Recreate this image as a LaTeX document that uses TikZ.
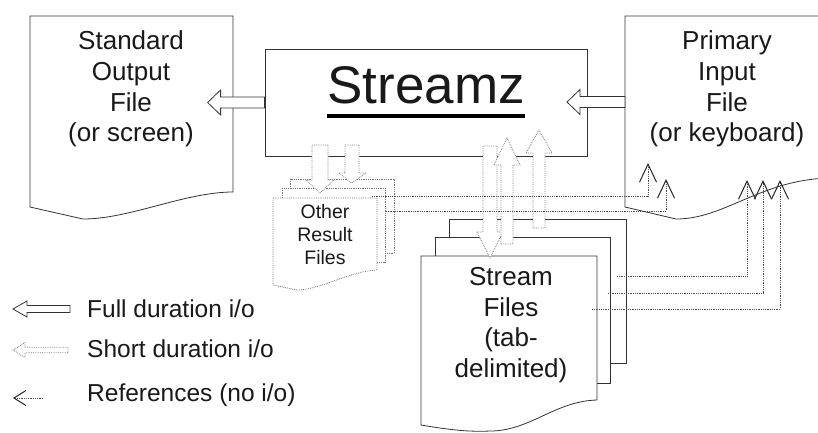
\documentclass[tikz,border=0pt]{standalone}
\usepackage{fontspec}
\setmainfont{Liberation Sans}
\usetikzlibrary{arrows.meta}

% block arrow along +x: length, body half width, head half width, head length
\tikzset{
    pics/ioarrow/.style n args={4}{code={
        \draw[pic actions] (0,-#2) -- (#1-#4,-#2) -- (#1-#4,-#3) -- (#1,0)
            -- (#1-#4,#3) -- (#1-#4,#2) -- (0,#2) -- cycle;
    }}
}

\begin{document}
\begin{tikzpicture}[
    x=1pt, y=-1pt,
    every node/.style={text=black!90},
    docline/.style={draw=black!80, fill=white, line width=0.8pt},
    orfline/.style={draw=black!55, fill=white, line width=0.8pt, densely dotted},
    doctext/.style={font=\fontsize{26}{30.7}\selectfont, align=center, inner sep=0pt},
    orftext/.style={font=\fontsize{19.5}{23}\selectfont, align=center, inner sep=0pt},
    legtext/.style={font=\fontsize{24.5}{28}\selectfont, inner sep=0pt, anchor=base west},
    fullio/.style={draw=black!80, fill=white, line width=0.8pt},
    shortio/.style={draw=black!50, fill=white, line width=0.8pt, densely dotted},
    refline/.style={draw=black!70, line width=0.8pt, densely dotted,
        -{Straight Barb[length=18pt,width=17pt,line width=1pt,color=black!85]}}
]
\clip (0,0) rectangle (818,432);

% --- Standard output file ---
\draw[docline] (30,16) -- (233,16) -- (233,192)
    .. controls (185,192) and (130,219) .. (83,219) -- (30,207) -- cycle;
\node[doctext] (std-text) at (131,89) {Standard\\Output\\File\\(or screen)};

% --- Primary input file ---
\draw[docline] (625,16) -- (829,16) -- (829,178)
    .. controls (760,180) and (725,219) .. (676,219) -- (625,207) -- cycle;
\node[doctext] (prim-text) at (727,89) {Primary\\Input\\File\\(or keyboard)};
\coordinate (prim-w) at (625,102);

% --- Streamz ---
\node[draw=black!80, line width=0.8pt, minimum width=322pt, minimum height=107pt,
    inner sep=0pt] (streamz) at (426,102.5) {};
\node[font=\fontsize{53}{60}\selectfont, inner sep=0pt, anchor=base] (title) at (426,103) {Streamz};
\draw[line width=4pt] ([yshift=-13pt]title.base west) -- ([yshift=-13pt]title.base east);

% --- Other result files ---
\draw[orfline] (290,179) rectangle (394,253);
\draw[orfline] (282,188) rectangle (385,262);
\draw[orfline] (273,198) -- (377,198) -- (377,270)
    .. controls (350,271) and (320,290) .. (297,290) -- (273,285) -- cycle;
\node[orftext] (orf-text) at (325,235) {Other\\Result\\Files};

% --- Stream files ---
\draw[docline] (449,219) rectangle (626,363);
\draw[docline] (435,237) rectangle (610,383);
\draw[docline] (421,256) -- (597,256) -- (597,400)
    .. controls (555,401) and (530,431) .. (490,431)
    .. controls (470,432) and (450,430) .. (421,425) -- cycle;
\node[doctext] (sf-text) at (511,325) {Stream\\Files\\(tab-\\delimited)};

% --- Full duration i/o ---
\pic[fullio, rotate=180] at (streamz.west) {ioarrow={57}{5.5}{12.5}{13}};
\pic[fullio, rotate=180] at (prim-w) {ioarrow={58}{5.5}{12.5}{13}};

% --- Short duration i/o ---
\pic[shortio, rotate=-90] at (320,145) {ioarrow={48}{8}{14}{13}};
\pic[shortio, rotate=-90] at (352,145) {ioarrow={38}{7}{13.5}{10}};
\pic[shortio, rotate=-90] at (490,146) {ioarrow={112}{7}{13}{26}};
\pic[shortio, rotate=90] at (507,244) {ioarrow={106}{6}{13}{27}};
\pic[shortio, rotate=90] at (539,228) {ioarrow={98}{6}{13}{23}};

% --- References ---
\coordinate (orf-a) at (372,196);  \coordinate (pin-a) at (648,163);
\coordinate (orf-b) at (386,211);  \coordinate (pin-b) at (666,179);
\coordinate (sf-a) at (617,276);   \coordinate (pin-c) at (747,180);
\coordinate (sf-b) at (608,293);   \coordinate (pin-d) at (763,180);
\coordinate (sf-c) at (592,309);   \coordinate (pin-e) at (780,180);
\draw[refline] (orf-a) -| (pin-a);
\draw[refline] (orf-b) -| (pin-b);
\draw[refline] (sf-a) -| (pin-c);
\draw[refline] (sf-b) -| (pin-d);
\draw[refline] (sf-c) -| (pin-e);

% --- Legend ---
\pic[fullio, rotate=180] at (70,309) {ioarrow={57}{3.5}{8}{14}};
\node[legtext] (leg-full) at (87,317) {Full duration i/o};
\pic[shortio, rotate=180] at (68,350) {ioarrow={55}{2.8}{7.5}{12}};
\node[legtext] (leg-short) at (87,357) {Short duration i/o};
\coordinate (leg-ref-a) at (43,398);
\coordinate (leg-ref-b) at (13,398);
\draw[refline, -{Straight Barb[length=12pt,width=15pt,line width=1pt,color=black!85]}]
    (leg-ref-a) -- (leg-ref-b);
\node[legtext] (leg-ref) at (87,401) {References (no i/o)};

\end{tikzpicture}
\end{document}
